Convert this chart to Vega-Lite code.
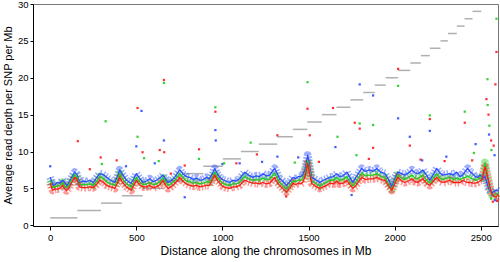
{
  "$schema": "https://vega.github.io/schema/vega-lite/v6.json",
  "width": 465,
  "height": 222,
  "autosize": {"type": "none"},
  "padding": {"left": 33, "top": 4, "right": 2, "bottom": 36},
  "background": "white",
  "config": {
    "font": "Liberation Sans",
    "view": {"stroke": "#777", "strokeWidth": 1},
    "axis": {"grid": false, "domainColor": "#000", "tickColor": "#000", "labelColor": "#000", "titleColor": "#000", "titleFontWeight": "normal", "labelFont": "Liberation Sans", "titleFont": "Liberation Sans"}
  },
  "datasets": {
    "lines": [
      {"x":0,"b":6.5,"g":6.1,"r":5.7},{"x":8,"b":6.0,"g":5.5,"r":5.1},{"x":15,"b":5.4,"g":5.1,"r":4.75},{"x":28,"b":5.5,"g":5.2,"r":4.9},{"x":40,"b":5.8,"g":5.3,"r":4.9},{"x":55,"b":5.7,"g":5.4,"r":5.0},{"x":72,"b":6.1,"g":5.8,"r":5.4},{"x":85,"b":5.8,"g":5.3,"r":4.9},{"x":95,"b":5.4,"g":5.1,"r":4.7},{"x":108,"b":5.7,"g":5.4,"r":5.0},{"x":120,"b":6.3,"g":6.0,"r":5.6},{"x":132,"b":6.8,"g":6.4,"r":6.1},{"x":142,"b":7.2,"g":6.9,"r":6.5},{"x":155,"b":6.9,"g":6.5,"r":6.2},{"x":170,"b":5.8,"g":5.5,"r":5.2},{"x":190,"b":6.0,"g":5.5,"r":5.1},{"x":210,"b":5.9,"g":5.5,"r":5.1},{"x":230,"b":6.1,"g":5.6,"r":5.2},{"x":250,"b":5.8,"g":5.4,"r":5.1},{"x":268,"b":6.4,"g":5.9,"r":5.5},{"x":287,"b":7.0,"g":6.6,"r":6.1},{"x":305,"b":6.9,"g":6.4,"r":5.9},{"x":328,"b":6.5,"g":5.9,"r":5.4},{"x":350,"b":6.1,"g":5.6,"r":5.2},{"x":375,"b":5.8,"g":5.4,"r":5.0},{"x":390,"b":6.6,"g":6.1,"r":5.7},{"x":403,"b":7.5,"g":7.0,"r":6.5},{"x":420,"b":6.9,"g":6.3,"r":5.8},{"x":443,"b":6.1,"g":5.6,"r":5.2},{"x":470,"b":5.7,"g":5.2,"r":4.75},{"x":485,"b":6.3,"g":5.8,"r":5.4},{"x":500,"b":7.0,"g":6.5,"r":6.1},{"x":518,"b":6.4,"g":5.9,"r":5.5},{"x":540,"b":5.8,"g":5.5,"r":5.2},{"x":560,"b":6.0,"g":5.6,"r":5.2},{"x":578,"b":6.3,"g":5.8,"r":5.4},{"x":598,"b":5.9,"g":5.5,"r":5.1},{"x":617,"b":6.1,"g":5.6,"r":5.2},{"x":636,"b":6.4,"g":5.9,"r":5.5},{"x":655,"b":6.8,"g":6.4,"r":6.1},{"x":670,"b":6.3,"g":5.9,"r":5.4},{"x":684,"b":5.8,"g":5.4,"r":5.0},{"x":700,"b":6.0,"g":5.6,"r":5.2},{"x":720,"b":6.4,"g":6.0,"r":5.6},{"x":737,"b":7.0,"g":6.5,"r":6.0},{"x":752,"b":7.5,"g":7.0,"r":6.5},{"x":770,"b":7.0,"g":6.5,"r":6.0},{"x":790,"b":6.6,"g":6.0,"r":5.6},{"x":810,"b":6.5,"g":5.9,"r":5.4},{"x":830,"b":6.2,"g":5.7,"r":5.3},{"x":850,"b":6.4,"g":5.8,"r":5.4},{"x":868,"b":6.1,"g":5.6,"r":5.2},{"x":888,"b":6.2,"g":5.7,"r":5.3},{"x":908,"b":6.5,"g":5.9,"r":5.4},{"x":925,"b":6.3,"g":5.8,"r":5.4},{"x":942,"b":7.0,"g":6.5,"r":6.2},{"x":955,"b":7.7,"g":7.2,"r":6.8},{"x":970,"b":7.0,"g":6.5,"r":6.1},{"x":985,"b":6.5,"g":6.1,"r":5.7},{"x":1000,"b":6.2,"g":5.7,"r":5.3},{"x":1020,"b":6.0,"g":5.5,"r":5.1},{"x":1042,"b":5.8,"g":5.4,"r":5.0},{"x":1060,"b":6.1,"g":5.6,"r":5.2},{"x":1080,"b":6.0,"g":5.6,"r":5.2},{"x":1100,"b":6.3,"g":5.8,"r":5.4},{"x":1115,"b":6.8,"g":6.3,"r":5.8},{"x":1130,"b":7.2,"g":6.6,"r":6.1},{"x":1150,"b":6.8,"g":6.3,"r":5.9},{"x":1177,"b":6.5,"g":6.1,"r":5.7},{"x":1195,"b":6.7,"g":6.2,"r":5.7},{"x":1215,"b":6.6,"g":6.1,"r":5.6},{"x":1235,"b":7.0,"g":6.4,"r":5.8},{"x":1255,"b":6.7,"g":6.2,"r":5.6},{"x":1274,"b":6.8,"g":6.3,"r":5.7},{"x":1290,"b":7.3,"g":6.7,"r":6.1},{"x":1303,"b":7.7,"g":7.1,"r":6.5},{"x":1318,"b":7.0,"g":6.4,"r":5.8},{"x":1332,"b":6.3,"g":5.8,"r":5.4},{"x":1350,"b":6.0,"g":5.4,"r":5.0},{"x":1372,"b":5.4,"g":4.9,"r":4.5},{"x":1390,"b":5.9,"g":5.4,"r":5.0},{"x":1410,"b":6.5,"g":6.0,"r":5.7},{"x":1425,"b":6.3,"g":5.9,"r":5.5},{"x":1440,"b":6.6,"g":6.1,"r":5.7},{"x":1455,"b":6.6,"g":6.1,"r":5.6},{"x":1466,"b":6.8,"g":6.3,"r":5.8},{"x":1480,"b":7.6,"g":7.0,"r":6.6},{"x":1495,"b":9.5,"g":8.8,"r":8.4},{"x":1505,"b":8.2,"g":7.6,"r":7.1},{"x":1518,"b":6.5,"g":6.0,"r":5.7},{"x":1540,"b":6.2,"g":5.7,"r":5.3},{"x":1565,"b":5.8,"g":5.3,"r":5.0},{"x":1585,"b":6.1,"g":5.6,"r":5.2},{"x":1605,"b":6.3,"g":5.8,"r":5.4},{"x":1623,"b":6.5,"g":6.1,"r":5.7},{"x":1645,"b":6.6,"g":6.1,"r":5.6},{"x":1664,"b":7.0,"g":6.5,"r":6.0},{"x":1680,"b":6.6,"g":6.1,"r":5.6},{"x":1700,"b":6.7,"g":6.2,"r":5.7},{"x":1722,"b":7.2,"g":6.6,"r":6.1},{"x":1740,"b":6.5,"g":5.9,"r":5.5},{"x":1757,"b":5.8,"g":5.3,"r":5.0},{"x":1775,"b":6.5,"g":5.9,"r":5.4},{"x":1795,"b":7.2,"g":6.6,"r":6.1},{"x":1809,"b":7.7,"g":7.1,"r":6.5},{"x":1830,"b":7.3,"g":6.7,"r":6.2},{"x":1855,"b":7.5,"g":6.8,"r":6.3},{"x":1875,"b":7.3,"g":6.8,"r":6.3},{"x":1896,"b":7.7,"g":7.0,"r":6.5},{"x":1920,"b":7.2,"g":6.6,"r":6.2},{"x":1943,"b":7.0,"g":6.5,"r":6.1},{"x":1965,"b":6.2,"g":5.6,"r":5.3},{"x":1983,"b":5.2,"g":4.9,"r":4.75},{"x":2000,"b":6.3,"g":5.9,"r":5.6},{"x":2018,"b":7.2,"g":6.8,"r":6.5},{"x":2040,"b":7.0,"g":6.4,"r":6.0},{"x":2059,"b":6.8,"g":6.2,"r":5.8},{"x":2080,"b":7.1,"g":6.5,"r":6.0},{"x":2100,"b":7.5,"g":6.8,"r":6.3},{"x":2118,"b":7.1,"g":6.4,"r":5.9},{"x":2134,"b":7.0,"g":6.3,"r":5.8},{"x":2150,"b":7.2,"g":6.6,"r":6.1},{"x":2163,"b":7.5,"g":6.8,"r":6.3},{"x":2185,"b":6.8,"g":6.1,"r":5.7},{"x":2204,"b":6.1,"g":5.7,"r":5.4},{"x":2225,"b":6.9,"g":6.4,"r":6.0},{"x":2244,"b":7.7,"g":7.0,"r":6.5},{"x":2262,"b":7.1,"g":6.4,"r":6.0},{"x":2279,"b":6.8,"g":6.2,"r":5.8},{"x":2300,"b":6.9,"g":6.4,"r":5.9},{"x":2320,"b":7.0,"g":6.5,"r":6.1},{"x":2340,"b":6.8,"g":6.2,"r":5.8},{"x":2360,"b":7.2,"g":6.4,"r":5.8},{"x":2380,"b":6.6,"g":6.2,"r":5.8},{"x":2395,"b":6.8,"g":6.4,"r":6.1},{"x":2410,"b":7.3,"g":6.5,"r":5.9},{"x":2424,"b":7.7,"g":6.7,"r":5.8},{"x":2440,"b":7.2,"g":6.4,"r":5.8},{"x":2453,"b":7.0,"g":6.3,"r":5.7},{"x":2468,"b":6.6,"g":6.1,"r":5.7},{"x":2482,"b":6.5,"g":6.2,"r":5.8},{"x":2495,"b":6.8,"g":6.4,"r":6.0},{"x":2505,"b":6.6,"g":6.4,"r":6.1},{"x":2515,"b":6.4,"g":7.2,"r":6.9},{"x":2525,"b":6.6,"g":8.5,"r":7.9},{"x":2535,"b":5.8,"g":7.3,"r":7.0},{"x":2545,"b":5.0,"g":5.8,"r":6.0},{"x":2555,"b":4.6,"g":4.8,"r":5.0},{"x":2565,"b":4.4,"g":4.1,"r":4.2},{"x":2578,"b":4.6,"g":4.0,"r":3.9},{"x":2590,"b":4.8,"g":4.2,"r":3.8},{"x":2600,"b":4.6,"g":4.4,"r":4.2}
    ],
    "pts": [
      {"x":0,"s":"b","v":8.0},{"x":160,"s":"r","v":11.4},{"x":322,"s":"g","v":14.1},{"x":293,"s":"r","v":9.2},{"x":300,"s":"g","v":8.3},{"x":386,"s":"r","v":8.8},{"x":507,"s":"r","v":15.9},{"x":530,"s":"b","v":15.5},{"x":507,"s":"g","v":12.0},{"x":500,"s":"b","v":10.7},{"x":536,"s":"r","v":9.9},{"x":545,"s":"g","v":9.1},{"x":660,"s":"r","v":19.7},{"x":660,"s":"g","v":19.3},{"x":660,"s":"b","v":11.5},{"x":636,"s":"r","v":10.2},{"x":662,"s":"r","v":9.9},{"x":630,"s":"g","v":8.7},{"x":607,"s":"b","v":8.4},{"x":440,"s":"b","v":8.0},{"x":230,"s":"r","v":7.6},{"x":959,"s":"g","v":16.0},{"x":959,"s":"r","v":15.4},{"x":959,"s":"b","v":12.9},{"x":961,"s":"b","v":11.5},{"x":864,"s":"r","v":10.3},{"x":864,"s":"g","v":9.0},{"x":781,"s":"r","v":8.1},{"x":781,"s":"b","v":3.8},{"x":1164,"s":"g","v":11.2},{"x":1494,"s":"g","v":19.4},{"x":1494,"s":"r","v":15.8},{"x":1319,"s":"r","v":12.2},{"x":1319,"s":"b","v":9.3},{"x":1507,"s":"r","v":12.2},{"x":1656,"s":"b","v":10.6},{"x":1668,"s":"g","v":12.0},{"x":1081,"s":"r","v":8.4},{"x":1100,"s":"b","v":8.4},{"x":1642,"s":"r","v":15.9},{"x":1768,"s":"r","v":13.9},{"x":1797,"s":"r","v":13.1},{"x":1797,"s":"g","v":13.8},{"x":1797,"s":"b","v":19.1},{"x":1875,"s":"b","v":17.6},{"x":1875,"s":"g","v":13.6},{"x":1875,"s":"r","v":10.5},{"x":2020,"s":"r","v":21.2},{"x":2020,"s":"g","v":18.9},{"x":2020,"s":"b","v":14.5},{"x":2088,"s":"b","v":12.0},{"x":2088,"s":"r","v":10.8},{"x":2204,"s":"g","v":14.9},{"x":2204,"s":"r","v":14.4},{"x":2204,"s":"b","v":12.8},{"x":2407,"s":"r","v":13.9},{"x":2407,"s":"g","v":15.4},{"x":2591,"s":"r","v":23.5},{"x":2591,"s":"g","v":28.0},{"x":2539,"s":"g","v":19.8},{"x":2585,"s":"r","v":19.1},{"x":2533,"s":"r","v":17.1},{"x":2540,"s":"g","v":16.3},{"x":2545,"s":"r","v":15.0},{"x":2550,"s":"g","v":13.5},{"x":2548,"s":"b","v":12.3},{"x":2560,"s":"r","v":11.5},{"x":2562,"s":"g","v":10.2},{"x":2575,"s":"r","v":10.8},{"x":2580,"s":"b","v":9.5},{"x":1560,"s":"r","v":8.6},{"x":1420,"s":"g","v":8.5},{"x":1440,"s":"b","v":9.2},{"x":1778,"s":"g","v":9.5},{"x":1850,"s":"r","v":9.0},{"x":2300,"s":"b","v":9.3},{"x":2290,"s":"r","v":8.7},{"x":2460,"s":"g","v":9.8},{"x":2470,"s":"b","v":11.0},{"x":2450,"s":"r","v":8.8},{"x":1230,"s":"b","v":8.6},{"x":1200,"s":"r","v":9.6},{"x":1000,"s":"b","v":8.3},{"x":1010,"s":"g","v":8.4},{"x":2150,"s":"r","v":8.9},{"x":2160,"s":"b","v":8.8},{"x":700,"s":"r","v":7.0},{"x":1750,"s":"b","v":4.1},{"x":1370,"s":"r","v":3.9},{"x":2570,"s":"r","v":3.2},{"x":2583,"s":"b","v":3.4},{"x":2560,"s":"g","v":3.6},{"x":2595,"s":"r","v":3.3}
    ],
    "chr": [
      {"x":0,"x2":158,"v":1},{"x":158,"x2":295,"v":2},{"x":295,"x2":416,"v":3},{"x":416,"x2":537,"v":4},{"x":537,"x2":658,"v":5},{"x":658,"x2":777,"v":6},{"x":777,"x2":889,"v":7},{"x":889,"x2":1002,"v":8},{"x":1002,"x2":1107,"v":9},{"x":1107,"x2":1211,"v":10},{"x":1211,"x2":1318,"v":11},{"x":1318,"x2":1409,"v":12},{"x":1409,"x2":1493,"v":13},{"x":1493,"x2":1577,"v":14},{"x":1577,"x2":1662,"v":15},{"x":1662,"x2":1743,"v":16},{"x":1743,"x2":1818,"v":17},{"x":1818,"x2":1884,"v":18},{"x":1884,"x2":1948,"v":19},{"x":1948,"x2":2020,"v":20},{"x":2020,"x2":2091,"v":21},{"x":2091,"x2":2152,"v":22},{"x":2152,"x2":2204,"v":23},{"x":2204,"x2":2266,"v":24},{"x":2266,"x2":2309,"v":25},{"x":2309,"x2":2361,"v":26},{"x":2361,"x2":2406,"v":27},{"x":2406,"x2":2452,"v":28},{"x":2452,"x2":2503,"v":29}
    ]
  },
  "encoding": {
    "x": {"field": "x", "type": "quantitative", "scale": {"domain": [-100, 2600], "nice": false, "zero": false},
      "axis": {"values": [0, 500, 1000, 1500, 2000, 2500], "format": "d", "tickSize": 4, "labelFontSize": 9.5, "labelPadding": 2, "title": "Distance along the chromosomes in Mb", "titleFontSize": 12, "titlePadding": 4}},
    "y": {"field": "v", "type": "quantitative", "scale": {"domain": [-0.1, 30], "nice": false, "zero": false},
      "axis": {"values": [0, 5, 10, 15, 20, 25, 30], "tickSize": 3, "labelFontSize": 9.5, "labelPadding": 2, "title": "Average read depth per SNP per Mb", "titleFontSize": 11, "titlePadding": 4}}
  },
  "layer": [
    {
      "data": {"name": "chr"},
      "mark": {"type": "rule", "color": "#b0b0b0", "strokeWidth": 1.5},
      "encoding": {"x2": {"field": "x2"}}
    },
    {
      "data": {"name": "lines"},
      "transform": [{"fold": ["b", "g", "r"], "as": ["s", "v"]}],
      "mark": {"type": "line", "strokeWidth": 8, "opacity": 0.45, "strokeDash": [1.5, 1.5], "strokeJoin": "round"},
      "encoding": {"color": {"field": "s", "type": "nominal", "scale": {"domain": ["b", "g", "r"], "range": ["#2b4cff", "#22cc22", "#ff1a1a"]}, "legend": null}}
    },
    {
      "data": {"name": "pts"},
      "mark": {"type": "square", "size": 5, "filled": true, "opacity": 0.9},
      "encoding": {"color": {"field": "s", "type": "nominal", "scale": {"domain": ["b", "g", "r"], "range": ["#2b4cff", "#22cc22", "#ff1a1a"]}, "legend": null}}
    },
    {
      "data": {"name": "lines"},
      "transform": [{"fold": ["b", "g", "r"], "as": ["s", "v"]}],
      "mark": {"type": "line", "strokeWidth": 1.3, "strokeJoin": "round"},
      "encoding": {"color": {"field": "s", "type": "nominal", "scale": {"domain": ["b", "g", "r"], "range": ["#2b4cff", "#22cc22", "#ff1a1a"]}, "legend": null}}
    }
  ]
}
